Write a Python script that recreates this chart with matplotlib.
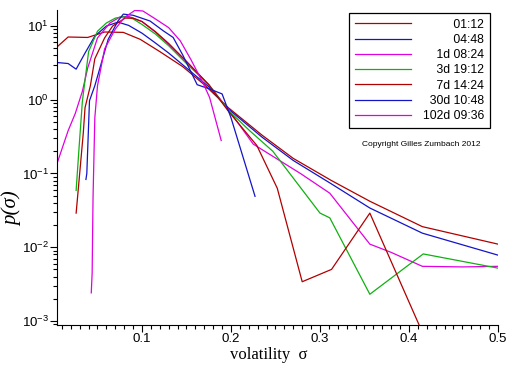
import matplotlib
matplotlib.use("Agg")
import matplotlib.pyplot as plt
from matplotlib.ticker import MultipleLocator, FormatStrFormatter, LogLocator

plt.rcParams['font.family'] = ['Liberation Sans', 'DejaVu Sans']

# volatility distributions, one per time horizon
labels = ["01:12", "04:48", "1d 08:24", "3d 19:12", "7d 14:24", "30d 10:48", "102d 09:36"]
colors = ["#b00000", "#1414c8", "#e000e0", "#10b010", "#b00000", "#1414c8", "#e000e0"]

sig_0112 = [0.0045, 0.017, 0.039, 0.058, 0.079, 0.098, 0.12, 0.146, 0.17, 0.197, 0.235, 0.27, 0.313, 0.356, 0.415, 0.5]
p_0112 = [5.2, 7.1, 7.0, 8.3, 8.2, 6.6, 4.5, 2.8, 1.6, 0.78, 0.33, 0.16, 0.08, 0.042, 0.019, 0.011]

sig_0448 = [0.0045, 0.017, 0.026, 0.036, 0.047, 0.06, 0.073, 0.085, 0.1, 0.115, 0.13, 0.15, 0.175, 0.197,
            0.235, 0.27, 0.313, 0.356, 0.415, 0.5]
p_0448 = [3.2, 3.1, 2.6, 4.3, 7.3, 10, 11.3, 10.2, 8.0, 5.9, 4.3, 2.7, 1.5, 0.75,
          0.31, 0.15, 0.072, 0.034, 0.0155, 0.0078]

sig_1d = [0.0045, 0.017, 0.025, 0.033, 0.039, 0.05, 0.064, 0.075, 0.085, 0.1, 0.115, 0.13, 0.15, 0.175,
          0.197, 0.225, 0.278, 0.311, 0.356, 0.38, 0.415, 0.46, 0.5]
p_1d = [0.136, 0.38, 0.65, 1.3, 2.7, 6.9, 11, 13.2, 13.5, 11.5, 8.3, 5.6, 3.3, 1.6,
        0.74, 0.25, 0.1, 0.054, 0.011, 0.0085, 0.0055, 0.0054, 0.0055]

sig_3d = [0.026, 0.029, 0.033, 0.04, 0.05, 0.06, 0.07, 0.08, 0.09, 0.1, 0.115, 0.13, 0.15, 0.175, 0.197,
          0.221, 0.247, 0.266, 0.3, 0.311, 0.356, 0.416, 0.5]
p_3d = [0.059, 0.2, 0.95, 4.5, 8.5, 11, 12.8, 13.5, 12.5, 10.5, 7.8, 5.4, 3.1, 1.6, 0.72,
        0.38, 0.2, 0.1, 0.029, 0.025, 0.0023, 0.0081, 0.0052]

sig_7d = [0.026, 0.028, 0.034, 0.036, 0.042, 0.047, 0.058, 0.067, 0.081, 0.09, 0.1, 0.115, 0.13, 0.15,
          0.175, 0.197, 0.229, 0.252, 0.28, 0.313, 0.356, 0.415]
p_7d = [0.029, 0.054, 0.35, 0.78, 1.55, 3.6, 6.9, 10, 12.8, 12.8, 11.5, 8.4, 5.8, 3.3,
        1.6, 0.7, 0.24, 0.063, 0.0034, 0.005, 0.029, 0.0007]

sig_30d = [0.037, 0.038, 0.041, 0.047, 0.062, 0.073, 0.079, 0.09, 0.109, 0.124, 0.135, 0.146, 0.162,
           0.176, 0.19, 0.2, 0.227]
p_30d = [0.083, 0.1, 0.97, 1.55, 6.6, 11.7, 14.5, 14, 11.7, 8.6, 7.0, 4.0, 1.6,
         1.4, 1.2, 0.57, 0.049]

sig_102d = [0.043, 0.044, 0.0445, 0.045, 0.047, 0.05, 0.058, 0.07, 0.08, 0.092, 0.101, 0.115, 0.13,
            0.143, 0.155, 0.169, 0.176, 0.189]
p_102d = [0.0024, 0.0045, 0.0155, 0.048, 0.57, 1.55, 4.9, 9.1, 13, 16.3, 16, 12.5, 9.5,
          6.3, 3.5, 1.65, 1.07, 0.28]

sigmas = [sig_0112, sig_0448, sig_1d, sig_3d, sig_7d, sig_30d, sig_102d]
probs = [p_0112, p_0448, p_1d, p_3d, p_7d, p_30d, p_102d]

fig = plt.figure(figsize=(5.12, 3.66), dpi=100)
ax = fig.add_axes([57 / 512, 41 / 366, 441 / 512, 315 / 366])

for s, p, c, lab in zip(sigmas, probs, colors, labels):
    ax.plot(s, p, color=c, lw=0.9, label=lab)

ax.set_yscale('log')
ax.set_xlim(0.0045, 0.5)
ax.set_ylim(8.8e-4, 16.5)

ax.spines['top'].set_visible(False)
ax.spines['right'].set_visible(False)
ax.xaxis.set_major_locator(MultipleLocator(0.1))
ax.xaxis.set_minor_locator(MultipleLocator(0.01))
ax.xaxis.set_major_formatter(FormatStrFormatter('%.1f'))
ax.yaxis.set_minor_locator(LogLocator(base=10, subs=range(2, 10)))
ax.tick_params(which='major', direction='out', length=5, width=0.8, labelsize=9.5, pad=1)
ax.tick_params(which='minor', direction='out', length=3, width=0.8)

serif = ['Liberation Serif', 'DejaVu Serif']
ax.set_xlabel("volatility  σ", family=serif, fontsize=12)
ax.xaxis.set_label_coords(0.48, -0.07)
ax.set_ylabel("p(σ)", family=serif, style='italic', fontsize=15)
ax.yaxis.set_label_coords(-0.078, 0.37)

# pad labels with spaces so they end flush right (as in the original legend)
pad = {"01:12": 9, "04:48": 9, "1d 08:24": 4, "3d 19:12": 4, "7d 14:24": 4, "30d 10:48": 2, "102d 09:36": 0}
handles, labs = ax.get_legend_handles_labels()
leg = ax.legend(handles, [" " * pad[l] + l for l in labs], loc='upper left',
                bbox_to_anchor=(349 / 512, 1 - 13 / 366), bbox_transform=fig.transFigure,
                borderaxespad=0, fancybox=False, framealpha=1, edgecolor='black',
                fontsize=8.8, handlelength=4.6, handletextpad=1.0, labelspacing=0.27,
                borderpad=0.45)
leg.get_frame().set_linewidth(0.9)

fig.text(421 / 512, 1 - 145 / 366, "Copyright Gilles Zumbach 2012", ha='center', va='center', fontsize=6)

fig.savefig("out.png", dpi=100)
